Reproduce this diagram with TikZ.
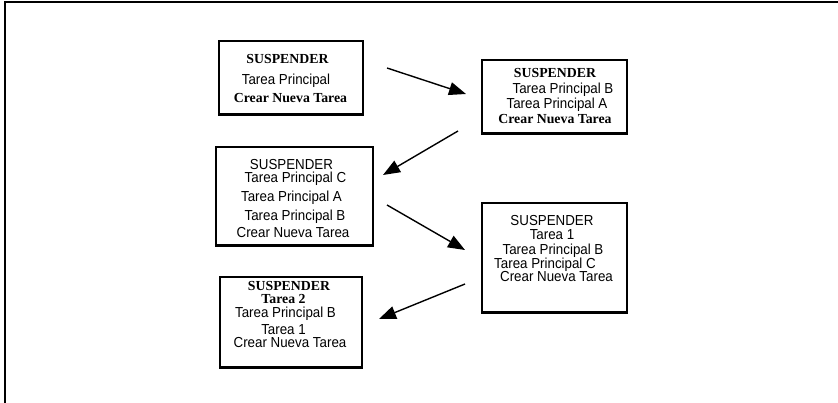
\documentclass[tikz,border=0pt]{standalone}
\usepackage{fontspec}
\usetikzlibrary{arrows.meta}
\newfontfamily\regfont[FakeStretch=0.92]{Liberation Sans}
\newfontfamily\boldserif{Liberation Serif}
\tikzset{
  box/.style={draw, line width=1.3pt, inner sep=0pt},
  reg/.style={anchor=base, inner sep=0pt, font=\regfont\fontsize{14.5}{14.5}\selectfont},
  bld/.style={anchor=base, inner sep=0pt, font=\boldserif\bfseries\fontsize{13.8}{13.8}\selectfont},
  flow/.style={line width=1.4pt, -{Triangle[length=17pt,width=13pt]}},
  frame/.style={line width=2pt}
}
\begin{document}
\begin{tikzpicture}[x=1pt,y=1pt]
\useasboundingbox (0,0) rectangle (838,-403);
% open frame: top and left edges
\coordinate (fr1) at (838,-2);
\coordinate (fr2) at (5,-2);
\coordinate (fr3) at (5,-403);
\draw[frame] (fr1) -- (fr2) -- (fr3);

% boxes
\node[box, minimum width=144pt, minimum height=73pt] (b1) at (291,-77.5) {};
\node[box, minimum width=145pt, minimum height=73pt] (b2) at (554.5,-96.5) {};
\node[box, minimum width=157pt, minimum height=98pt] (b3) at (294.5,-196) {};
\node[box, minimum width=145pt, minimum height=109pt] (b4) at (554.5,-257.5) {};
\node[box, minimum width=142pt, minimum height=90pt] (b5) at (291,-322) {};
\foreach \b in {b1,b2,b3,b4,b5}
  \draw[line width=2.2pt] (\b.south west) -- (\b.south east);

% first box
\node[bld] (b1t1) at (287.5,-64) {SUSPENDER};
\node[reg] (b1t2) at (286,-85) {Tarea Principal};
\node[bld] (b1t3) at (290.5,-103) {Crear Nueva Tarea};

% second box
\node[bld] (b2t1) at (555,-78) {SUSPENDER};
\node[reg] (b2t2) at (563,-94) {Tarea Principal B};
\node[reg] (b2t3) at (557,-109) {Tarea Principal A};
\node[bld] (b2t4) at (555,-124) {Crear Nueva Tarea};

% third box
\node[reg] (b3t1) at (291.5,-169.5) {SUSPENDER};
\node[reg] (b3t2) at (295.5,-182.5) {Tarea Principal C};
\node[reg] (b3t3) at (291.5,-202) {Tarea Principal A};
\node[reg] (b3t4) at (295,-221) {Tarea Principal B};
\node[reg] (b3t5) at (293,-238) {Crear Nueva Tarea};

% fourth box
\node[reg] (b4t1) at (552,-225.5) {SUSPENDER};
\node[reg] (b4t2) at (552,-240) {Tarea 1};
\node[reg] (b4t3) at (553,-254.5) {Tarea Principal B};
\node[reg] (b4t4) at (545,-268.5) {Tarea Principal C};
\node[reg] (b4t5) at (556.5,-282) {Crear Nueva Tarea};

% fifth box
\node[bld] (b5t1) at (289,-291) {SUSPENDER};
\node[bld] (b5t2) at (283.5,-304) {Tarea 2};
\node[reg] (b5t3) at (285.5,-317.5) {Tarea Principal B};
\node[reg] (b5t4) at (283.5,-334.5) {Tarea 1};
\node[reg] (b5t5) at (290,-348) {Crear Nueva Tarea};

% arrows between the stages
\coordinate (a1s) at (387,-68);  \coordinate (a1e) at (466,-94);
\coordinate (a2s) at (458,-131); \coordinate (a2e) at (383,-175);
\coordinate (a3s) at (387,-205); \coordinate (a3e) at (465,-250);
\coordinate (a4s) at (465,-284); \coordinate (a4e) at (379,-319);
\draw[flow] (a1s) -- (a1e);
\draw[flow] (a2s) -- (a2e);
\draw[flow] (a3s) -- (a3e);
\draw[flow] (a4s) -- (a4e);
\end{tikzpicture}
\end{document}
